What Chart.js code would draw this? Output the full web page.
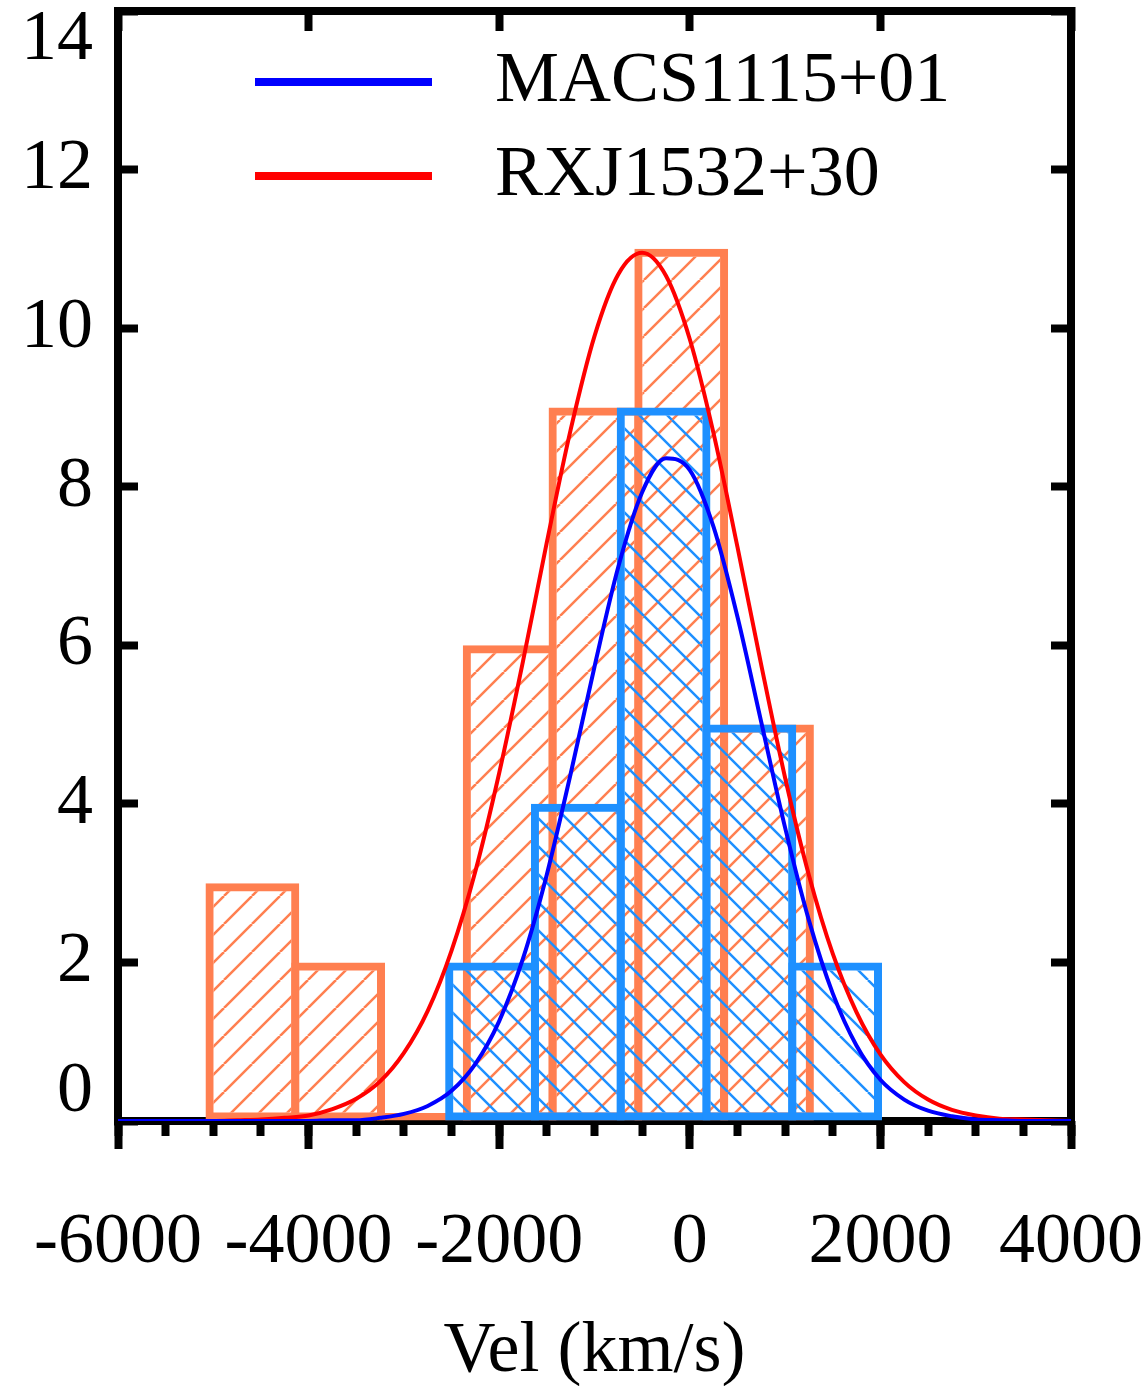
<!DOCTYPE html>
<html>
<head>
<meta charset="utf-8">
<title>Vel histograms</title>
<script src="https://cdn.jsdelivr.net/npm/chart.js@4.4.1/dist/chart.umd.min.js"></script>
<style>
    html, body { margin: 0; padding: 0; background: #fff; }
    #wrap { width: 1148px; height: 1386px; position: relative; }
</style>
</head>
<body>
<div id="wrap"><canvas id="velChart"></canvas></div>
<script>
// ============================================================
// Datos (bins de ~900 km/s)
// ============================================================
const rxjCenters = [-4590, -3690, -2790, -1890, -990, -90, 810];
const rxjCounts = [3, 2, 0, 6, 9, 11, 5];

const macsCenters = [-2075, -1175, -275, 625, 1525];
const macsCounts = [2, 4, 9, 5, 2];

// ajustes gaussianos, leídos cada 250 km/s
const velGrid = [-6000, -5750, -5500, -5250, -5000, -4750, -4500, -4250, -4000, -3750,
    -3500, -3250, -3000, -2750, -2500, -2250, -2000, -1750, -1500, -1250,
    -1000, -750, -500, -250, 0, 250, 500, 750, 1000, 1250,
    1500, 1750, 2000, 2250, 2500, 2750, 3000, 3250, 3500, 3750, 4000];
const macsFit = [0, 0, 0, 0, 0, 0, 0, 0, 0, 0.01,
    0.01, 0.04, 0.09, 0.19, 0.38, 0.72, 1.26, 2.05, 3.11, 4.38,
    5.73, 6.99, 7.93, 8.36, 8.21, 7.49, 6.36, 5.03, 3.70, 2.53,
    1.61, 0.95, 0.52, 0.27, 0.13, 0.06, 0.02, 0.01, 0, 0, 0];
const rxjFit = [0, 0, 0, 0, 0, 0.01, 0.02, 0.04, 0.07, 0.15,
    0.28, 0.50, 0.86, 1.39, 2.15, 3.15, 4.39, 5.80, 7.30, 8.72,
    9.90, 10.68, 10.95, 10.66, 9.86, 8.67, 7.24, 5.75, 4.33, 3.10,
    2.11, 1.37, 0.84, 0.49, 0.27, 0.14, 0.07, 0.03, 0.02, 0.01, 0];

const velTicks = [-6000, -4000, -2000, 0, 2000, 4000];
const countTicks = [0, 2, 4, 6, 8, 10, 12, 14];

// ============================================================

const canvas = document.getElementById('velChart');
const ctx = canvas.getContext('2d');

function hatch(color, dir) {
    const size = 28;
    const tile = document.createElement('canvas');
    tile.width = tile.height = size;
    const g = tile.getContext('2d');
    g.strokeStyle = color;
    g.lineWidth = 2.5;
    g.beginPath();
    for (let k = -1; k <= 1; k++) {
        if (dir === '/') {
            g.moveTo(k * size, size);
            g.lineTo(k * size + size, 0);
        } else {
            g.moveTo(k * size, 0);
            g.lineTo(k * size + size, size);
        }
    }
    g.stroke();
    return ctx.createPattern(tile, 'repeat');
}

const toPoints = (xs, ys) => xs.map((x, i) => ({ x: x, y: ys[i] }));

// leyenda dentro del área del gráfico
const insideLegend = {
    id: 'insideLegend',
    afterDatasetsDraw(chart) {
        const { ctx, chartArea } = chart;
        ctx.save();
        ctx.font = "72px 'Liberation Serif', serif";
        ctx.textBaseline = 'middle';
        ctx.textAlign = 'left';
        ctx.fillStyle = '#000';
        chart.data.datasets.filter(d => d.type === 'line').forEach((ds, i) => {
            const y = chartArea.top + 71 + i * 94;
            ctx.strokeStyle = ds.borderColor;
            ctx.lineWidth = 8;
            ctx.lineCap = 'butt';
            ctx.beginPath();
            ctx.moveTo(chartArea.left + 137, y);
            ctx.lineTo(chartArea.left + 314, y);
            ctx.stroke();
            ctx.fillText(ds.label, chartArea.left + 377, y);
        });
        ctx.restore();
    }
};

Chart.defaults.font.family = "'Liberation Serif', serif";
Chart.defaults.color = '#000';

const setTicks = list => axis => { axis.ticks = list.map(v => ({ value: v })); };

new Chart(ctx, {
    type: 'line',
    data: {
        datasets: [
            {
                type: 'line',
                label: 'MACS1115+01',
                data: toPoints(velGrid, macsFit),
                borderColor: '#0000FF',
                borderWidth: 4,
                pointRadius: 0,
                cubicInterpolationMode: 'monotone',
                fill: false,
                xAxisID: 'x',
                yAxisID: 'y',
                order: 0
            },
            {
                type: 'line',
                label: 'RXJ1532+30',
                data: toPoints(velGrid, rxjFit),
                borderColor: '#FF0000',
                borderWidth: 4,
                pointRadius: 0,
                cubicInterpolationMode: 'monotone',
                fill: false,
                xAxisID: 'x',
                yAxisID: 'y',
                order: 1
            },
            {
                type: 'bar',
                label: 'MACS1115+01 hist',
                data: toPoints(macsCenters, macsCounts),
                backgroundColor: hatch('#1E90FF', '\\'),
                borderColor: '#1E90FF',
                borderWidth: 8,
                borderSkipped: false,
                grouped: false,
                categoryPercentage: 1,
                barPercentage: 1.0933,
                minBarLength: 8,
                xAxisID: 'xb',
                yAxisID: 'y',
                order: 2
            },
            {
                type: 'bar',
                label: 'RXJ1532+30 hist',
                data: toPoints(rxjCenters, rxjCounts),
                backgroundColor: hatch('#FF7F50', '/'),
                borderColor: '#FF7F50',
                borderWidth: 8,
                borderSkipped: false,
                grouped: false,
                categoryPercentage: 1,
                barPercentage: 1.0933,
                minBarLength: 8,
                xAxisID: 'x',
                yAxisID: 'y',
                order: 3
            }
        ]
    },
    options: {
        responsive: true,
        maintainAspectRatio: false,
        animation: false,
        layout: { padding: { left: 18, right: 77, top: 11, bottom: 0 } },
        plugins: {
            legend: { display: false },
            tooltip: { enabled: false }
        },
        scales: {
            x: {
                type: 'linear',
                position: 'bottom',
                min: -6000,
                max: 4000,
                offset: false,
                weight: 1,
                afterBuildTicks: setTicks(velTicks),
                afterFit: axis => {
                    axis.height = 265;
                    axis.paddingLeft = 0;
                    axis.paddingRight = 0;
                },
                border: { display: true, color: '#000', width: 8 },
                grid: {
                    offset: false,
                    drawOnChartArea: false,
                    drawTicks: true,
                    tickLength: 28,
                    tickWidth: 8,
                    tickColor: '#000'
                },
                ticks: {
                    font: { size: 72, lineHeight: 1 },
                    color: '#000',
                    padding: 58,
                    autoSkip: false,
                    maxRotation: 0,
                    minRotation: 0,
                    callback: v => String(v)
                },
                title: {
                    display: true,
                    text: 'Vel (km/s)',
                    font: { size: 72, lineHeight: 1 },
                    color: '#000',
                    padding: { top: 0, bottom: -2 }
                }
            },
            // ticks menores del eje inferior
            xm: {
                type: 'linear',
                position: 'bottom',
                min: -6000,
                max: 4000,
                offset: false,
                weight: 0,
                afterFit: axis => { axis.height = 0; },
                border: { display: false },
                grid: {
                    offset: false,
                    drawOnChartArea: false,
                    tickLength: 15,
                    tickWidth: 8,
                    tickColor: '#000'
                },
                ticks: { display: false, stepSize: 500 }
            },
            xt: {
                type: 'linear',
                position: 'top',
                min: -6000,
                max: 4000,
                offset: false,
                afterBuildTicks: setTicks(velTicks),
                afterFit: axis => { axis.height = 0; },
                border: { display: true, color: '#000', width: 8 },
                grid: {
                    offset: false,
                    drawOnChartArea: false,
                    tickLength: -20,
                    tickWidth: 8,
                    tickColor: '#000'
                },
                ticks: { display: false }
            },
            // eje oculto para las barras de MACS (regla de ancho propia)
            xb: {
                type: 'linear',
                display: false,
                min: -6000,
                max: 4000,
                offset: false,
                grid: { offset: false },
                ticks: { stepSize: 10000 }
            },
            y: {
                type: 'linear',
                position: 'left',
                min: 0,
                max: 14,
                afterBuildTicks: setTicks(countTicks),
                afterFit: axis => {
                    axis.width = 100;
                    axis.paddingTop = 0;
                    axis.paddingBottom = 0;
                },
                border: { display: true, color: '#000', width: 8 },
                grid: {
                    drawOnChartArea: false,
                    tickLength: -20,
                    tickWidth: 8,
                    tickColor: '#000'
                },
                ticks: {
                    font: { size: 72, lineHeight: 0.8 },
                    color: '#000',
                    padding: 45,
                    callback: v => v === 14 ? ['', '14'] : (v === 0 ? ['0', ''] : String(v))
                }
            },
            yr: {
                type: 'linear',
                position: 'right',
                min: 0,
                max: 14,
                afterBuildTicks: setTicks(countTicks),
                afterFit: axis => { axis.width = 0; },
                border: { display: true, color: '#000', width: 8 },
                grid: {
                    drawOnChartArea: false,
                    tickLength: -20,
                    tickWidth: 8,
                    tickColor: '#000'
                },
                ticks: { display: false }
            }
        }
    },
    plugins: [insideLegend]
});
</script>
</body>
</html>
